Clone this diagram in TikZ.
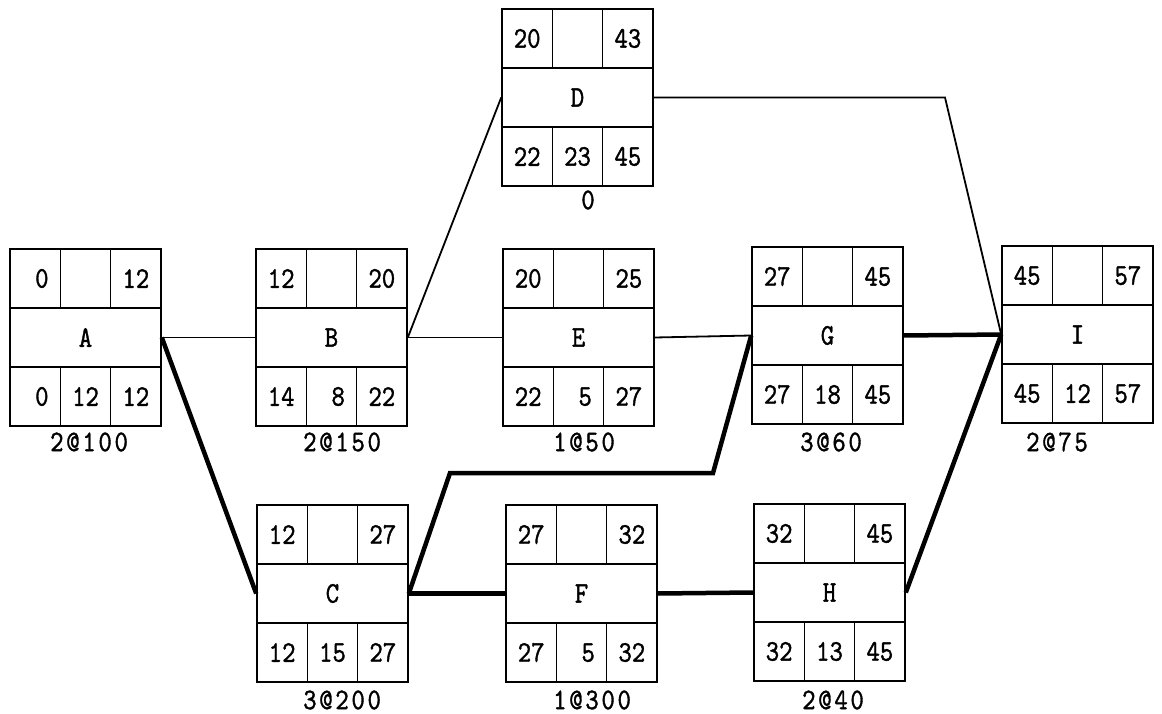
\documentclass[tikz,border=0pt]{standalone}
\usepackage{fontspec}
\newfontfamily\pfont{lmmono10-regular.otf}[FakeStretch=0.85,FakeBold=1.2]
\newfontfamily\plab{lmmono10-regular.otf}[FakeStretch=0.85,FakeBold=1.2,LetterSpace=9]
\newcommand{\sd}[1]{\phantom{0}#1}
\newcommand{\pertbox}[9]{%
  \node[midcell] (#1) at (#2+75.5,#3+88.5) {#6};
  \node[cell] (#1tl) at (#2+25.17,#3+29.5) {#4};
  \node[cell] (#1tm) at (#2+75.5,#3+29.5) {};
  \node[cell] (#1tr) at (#2+125.83,#3+29.5) {#5};
  \node[cell] (#1bl) at (#2+25.17,#3+147.5) {#7};
  \node[cell] (#1bm) at (#2+75.5,#3+147.5) {#8};
  \node[cell] (#1br) at (#2+125.83,#3+147.5) {#9};
}
\begin{document}
\begin{tikzpicture}[x=1pt,y=-1pt,
  cell/.style={draw, line width=1.6pt, minimum width=50.33pt, minimum height=59pt,
    inner sep=0pt, font=\pfont\fontsize{30}{32}\selectfont},
  midcell/.style={cell, minimum width=151pt},
  thinline/.style={line width=1.8pt},
  crit/.style={line width=4.5pt, line join=miter},
  lab/.style={inner sep=0pt, anchor=west, font=\plab\fontsize{30}{32}\selectfont}]
\useasboundingbox (0,0) rectangle (1162,714);
\fill[white] (0,0) rectangle (1162,714);

\pertbox{A}{10}{249}{\sd0}{12}{A}{\sd0}{12}{12}
\pertbox{B}{256}{249}{12}{20}{B}{14}{\sd8}{22}
\pertbox{D}{502}{9}{20}{43}{D}{22}{23}{45}
\pertbox{E}{503}{249}{20}{25}{E}{22}{\sd5}{27}
\pertbox{G}{752}{247}{27}{45}{G}{27}{18}{45}
\pertbox{I}{1002}{246}{45}{57}{I}{45}{12}{57}
\pertbox{C}{257}{505}{12}{27}{C}{12}{15}{27}
\pertbox{F}{506}{505}{27}{32}{F}{27}{\sd5}{32}
\pertbox{H}{754}{504}{32}{45}{H}{32}{13}{45}

\coordinate (dk) at (945,97.5);
\coordinate (c1) at (450,473);
\coordinate (c2) at (713,473);

\draw[thinline] (A.east) -- (B.west);
\draw[thinline] (B.east) -- (D.west);
\draw[thinline] (B.east) -- (E.west);
\draw[thinline] (D.east) -- (dk) -- (I.west);
\draw[thinline] (E.east) -- (G.west);
\draw[crit] (A.east) -- (C.west);
\draw[crit] (C.east) -- (c1) -- (c2) -- (G.west);
\draw[crit] (C.east) -- (F.west);
\draw[crit] (F.east) -- (H.west);
\draw[crit] (G.east) -- (I.west);
\draw[crit] (H.east) -- (I.west);

\node[lab] (lA) at (50,442) {2@100};
\node[lab] (lB) at (303,442) {2@150};
\node[lab] (lE) at (553,442) {1@50};
\node[lab] (lG) at (800,442) {3@60};
\node[lab] (lI) at (1026,442) {2@75};
\node[lab, anchor=center] (lD) at (588,200) {0};
\node[lab] (lC) at (303,700) {3@200};
\node[lab] (lF) at (553,700) {1@300};
\node[lab] (lH) at (802,700) {2@40};
\end{tikzpicture}
\end{document}
